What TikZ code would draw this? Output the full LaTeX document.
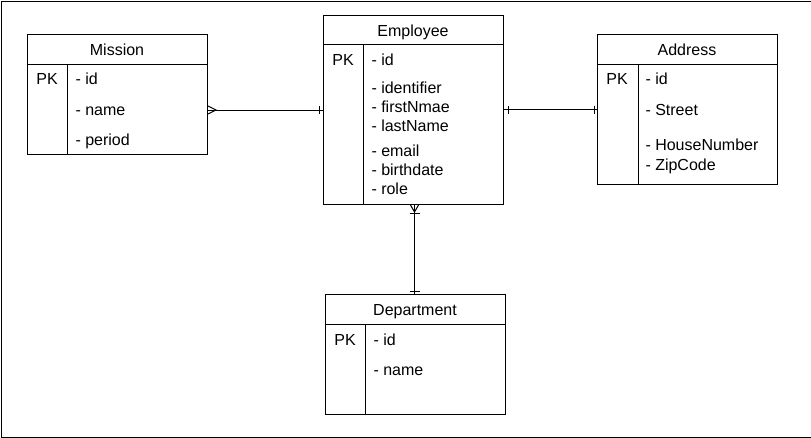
\documentclass[tikz,border=0pt]{standalone}
\usepackage{fontspec}
\setmainfont{Liberation Sans}
\usetikzlibrary{calc}
\begin{document}
\begin{tikzpicture}[x=1pt,y=-1pt,line width=1pt,
  ent/.style={draw,rectangle,inner sep=0,anchor=north west},
  fld/.style={inner sep=0,anchor=base west,font=\fontsize{16}{19}\selectfont},
  ttl/.style={inner sep=0,anchor=base,font=\fontsize{16}{19}\selectfont},
  pk/.style={inner sep=0,anchor=base,font=\fontsize{16}{19}\selectfont}]
\useasboundingbox (0,0) rectangle (811,437);
\node[draw,rectangle,inner sep=0,minimum width=810pt,minimum height=436pt,anchor=north west] (frame) at (0.5,0.5) {};
% Mission
\node[ent,minimum width=180pt,minimum height=120pt] (mission) at (27,34) {};
\draw ($(mission.north west)+(0,30)$) -- ($(mission.north east)+(0,30)$);
\draw ($(mission.north west)+(40,30)$) -- ($(mission.south west)+(40,0)$);
\node[ttl] (mt) at (117,55) {Mission};
\node[pk] (mpk) at (47,84) {PK};
\node[fld] (m1) at (75,84) {- id};
\node[fld] (m2) at (75,115) {- name};
\node[fld] (m3) at (75,145) {- period};
% Employee
\node[ent,minimum width=180pt,minimum height=189pt] (employee) at (323,15) {};
\draw ($(employee.north west)+(0,29)$) -- ($(employee.north east)+(0,29)$);
\draw ($(employee.north west)+(40,29)$) -- ($(employee.south west)+(40,0)$);
\node[ttl] (et) at (413,36) {Employee};
\node[pk] (epk) at (343,65) {PK};
\node[fld] (e1) at (371,65) {- id};
\node[fld] (e2) at (371,93) {- identifier};
\node[fld] (e3) at (371,112) {- firstNmae};
\node[fld] (e4) at (371,131) {- lastName};
\node[fld] (e5) at (371,156) {- email};
\node[fld] (e6) at (371,175) {- birthdate};
\node[fld] (e7) at (371,194) {- role};
% Address
\node[ent,minimum width=180pt,minimum height=150pt] (address) at (597,34) {};
\draw ($(address.north west)+(0,30)$) -- ($(address.north east)+(0,30)$);
\draw ($(address.north west)+(41,30)$) -- ($(address.south west)+(41,0)$);
\node[ttl] (at) at (687,55) {Address};
\node[pk] (apk) at (617,84) {PK};
\node[fld] (a1) at (645,84) {- id};
\node[fld] (a2) at (645,115) {- Street};
\node[fld] (a3) at (645,150) {- HouseNumber};
\node[fld] (a4) at (645,170) {- ZipCode};
% Department
\node[ent,minimum width=180pt,minimum height=120pt] (department) at (325,294) {};
\draw ($(department.north west)+(0,30)$) -- ($(department.north east)+(0,30)$);
\draw ($(department.north west)+(40,30)$) -- ($(department.south west)+(40,0)$);
\node[ttl] (dt) at (415,315) {Department};
\node[pk] (dpk) at (345,345) {PK};
\node[fld] (d1) at (373,345) {- id};
\node[fld] (d2) at (373,375) {- name};
% Connectors
\coordinate (me1) at (mission.east |- employee.west);
\draw (me1) -- (employee.west);
\draw ($(me1)+(0,-4)$) -- ($(me1)+(8,0)$) -- ($(me1)+(0,4)$);
\draw ($(employee.west)+(-4,-4)$) -- ($(employee.west)+(-4,4)$);
\coordinate (ea1) at (employee.east |- address.west);
\draw (ea1) -- (address.west);
\draw ($(ea1)+(4,-4)$) -- ($(ea1)+(4,4)$);
\draw ($(address.west)+(-3,-4)$) -- ($(address.west)+(-3,4)$);
\coordinate (ed1) at ($(employee.south)+(1,0)$);
\coordinate (ed2) at (ed1 |- department.north);
\draw (ed1) -- (ed2);
\draw ($(ed1)+(-4,0)$) -- ($(ed1)+(0,7)$) -- ($(ed1)+(4,0)$);
\draw ($(ed1)+(-5,8)$) -- ($(ed1)+(5,8)$);
\draw ($(ed2)+(-5,-3)$) -- ($(ed2)+(5,-3)$);
\end{tikzpicture}
\end{document}
